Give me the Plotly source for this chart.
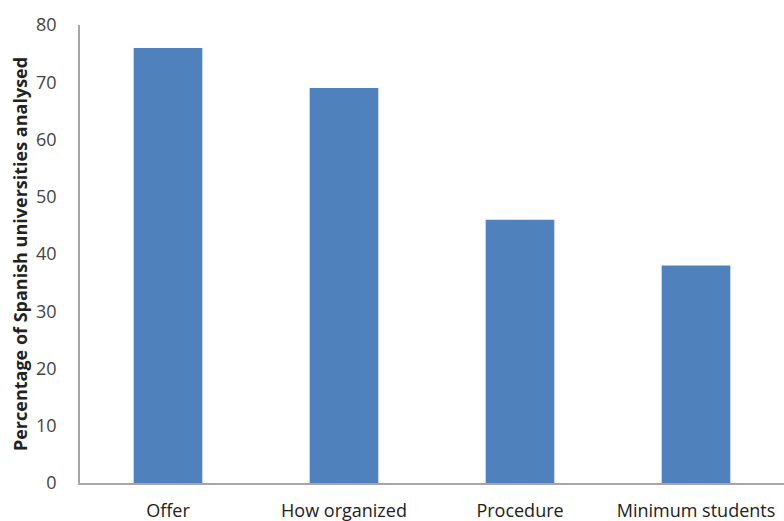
import plotly.graph_objects as go

categories = ["Offer", "How organized", "Procedure", "Minimum students"]
values = [76, 69, 46, 38]
y_ticks = [0, 10, 20, 30, 40, 50, 60, 70, 80]

fig = go.Figure(go.Bar(x=categories, y=values, marker=dict(color="#4F81BD", line=dict(width=0))))

fig.update_layout(
    width=784, height=521,
    margin=dict(l=80, r=0, t=25, b=38, autoexpand=False),
    paper_bgcolor="white", plot_bgcolor="white",
    bargap=0.61,
    showlegend=False,
    font=dict(family="Open Sans, Liberation Sans, sans-serif", size=18, color="#333333"),
)
fig.update_xaxes(
    showline=True, linecolor="#A6A6A6", linewidth=1.5,
    showgrid=False, ticks="", ticklabelstandoff=11,
    tickfont=dict(size=18, color="#222222"),
)
fig.update_yaxes(
    range=[0, 80], tickvals=y_ticks,
    showline=True, linecolor="#A6A6A6", linewidth=1.5,
    showgrid=False, zeroline=False, ticks="", ticklabelstandoff=18,
    tickfont=dict(size=18, color="#444444"),
    title=dict(text="<b>Percentage of Spanish universities analysed</b>", font=dict(size=18, color="#222222"), standoff=4),
)

fig.write_html("out.html")
